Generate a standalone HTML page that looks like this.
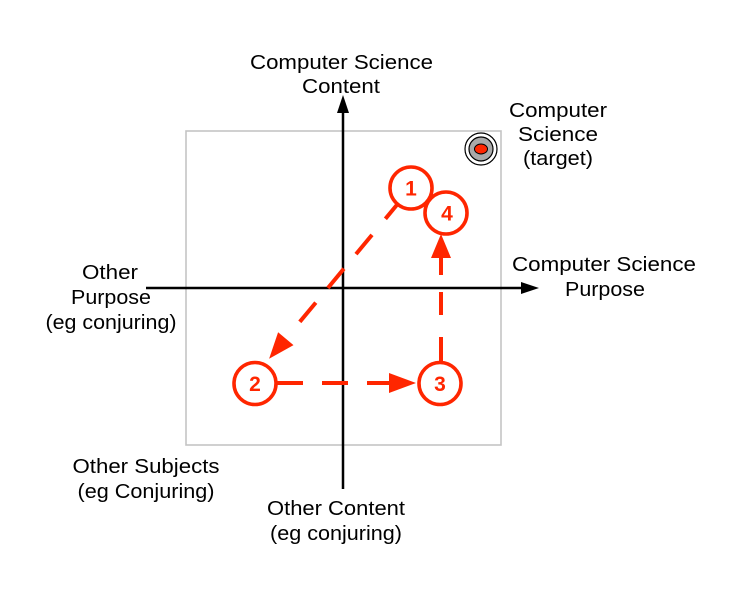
<!DOCTYPE html>
<html><head><meta charset="utf-8"><style>
html,body{margin:0;padding:0;background:#fff;}
svg{display:block;}
text{font-family:"Liberation Sans",Arial,sans-serif;font-size:20px;fill:#000;}
.n{font-weight:bold;font-size:21px;fill:#FF2600;}
</style></head><body>
<svg width="744" height="592" viewBox="0 0 744 592" xmlns="http://www.w3.org/2000/svg">
<rect x="0" y="0" width="744" height="592" fill="#fff"/>
<!-- box -->
<rect x="186" y="131" width="315" height="314" fill="none" stroke="#c4c4c4" stroke-width="1.6"/>
<!-- axes -->
<line x1="343" y1="489" x2="343" y2="110" stroke="#000" stroke-width="2.5"/>
<polygon points="343,95 337,113 349,113" fill="#000"/>
<line x1="146" y1="288" x2="524" y2="288" stroke="#000" stroke-width="2.5"/>
<polygon points="539,288 521,282 521,294" fill="#000"/>

<!-- target -->
<circle cx="481" cy="149" r="16" fill="#fff" stroke="#000" stroke-width="1.2"/>
<circle cx="481" cy="149" r="12" fill="#a9a9a9" stroke="#000" stroke-width="1.2"/>
<ellipse cx="481" cy="149" rx="6.5" ry="5" fill="#FF2600" stroke="#000" stroke-width="1"/>

<!-- red dashed connectors -->
<g stroke="#FF2600" stroke-width="4" fill="none" stroke-linecap="butt">
  <!-- 1 -> 2 -->
  <line x1="396.9" y1="204.9" x2="385.4" y2="218.8"/>
  <line x1="372.0" y1="234.9" x2="356.0" y2="254.1"/>
  <line x1="343.9" y1="268.7" x2="327.9" y2="288.0"/>
  <line x1="315.8" y1="302.6" x2="299.8" y2="321.8"/>
  <!-- 2 -> 3 -->
  <line x1="276" y1="383" x2="303" y2="383"/>
  <line x1="322" y1="383" x2="348" y2="383"/>
  <line x1="367" y1="383" x2="392" y2="383"/>
  <!-- 3 -> 4 -->
  <line x1="441" y1="362" x2="441" y2="337"/>
  <line x1="441" y1="315" x2="441" y2="292"/>
  <line x1="441" y1="275" x2="441" y2="255"/>
</g>
<g fill="#FF2600">
  <polygon points="269.1,358.7 293.5,345.1 278.1,332.3"/>
  <polygon points="416,383 389,373 389,393"/>
  <polygon points="441,234 431,258 451,258"/>
</g>

<!-- circles -->
<g stroke="#FF2600" stroke-width="3.6" fill="#fff">
  <circle cx="411" cy="188" r="21"/>
  <circle cx="446" cy="213" r="21"/>
  <circle cx="255" cy="383.5" r="21"/>
  <circle cx="440" cy="383.5" r="21"/>
</g>
<text class="n" x="411" y="195.5" text-anchor="middle">1</text>
<text class="n" x="447" y="220.5" text-anchor="middle">4</text>
<text class="n" x="255" y="391" text-anchor="middle">2</text>
<text class="n" x="440" y="391" text-anchor="middle">3</text>

<!-- labels -->
<text x="341.5" y="69" text-anchor="middle" textLength="183" lengthAdjust="spacingAndGlyphs">Computer Science</text>
<text x="341" y="93" text-anchor="middle" textLength="78" lengthAdjust="spacingAndGlyphs">Content</text>

<text x="558" y="117" text-anchor="middle" textLength="98" lengthAdjust="spacingAndGlyphs">Computer</text>
<text x="558" y="141" text-anchor="middle" textLength="80" lengthAdjust="spacingAndGlyphs">Science</text>
<text x="558" y="165" text-anchor="middle" textLength="70" lengthAdjust="spacingAndGlyphs">(target)</text>

<text x="604" y="271" text-anchor="middle" textLength="184" lengthAdjust="spacingAndGlyphs">Computer Science</text>
<text x="605" y="296" text-anchor="middle" textLength="80" lengthAdjust="spacingAndGlyphs">Purpose</text>

<text x="110" y="279" text-anchor="middle" textLength="56" lengthAdjust="spacingAndGlyphs">Other</text>
<text x="111" y="304" text-anchor="middle" textLength="80" lengthAdjust="spacingAndGlyphs">Purpose</text>
<text x="111" y="329" text-anchor="middle" textLength="131" lengthAdjust="spacingAndGlyphs">(eg conjuring)</text>

<text x="146" y="473" text-anchor="middle" textLength="147" lengthAdjust="spacingAndGlyphs">Other Subjects</text>
<text x="146" y="498" text-anchor="middle" textLength="137" lengthAdjust="spacingAndGlyphs">(eg Conjuring)</text>

<text x="336" y="515" text-anchor="middle" textLength="138" lengthAdjust="spacingAndGlyphs">Other Content</text>
<text x="336" y="540" text-anchor="middle" textLength="132" lengthAdjust="spacingAndGlyphs">(eg conjuring)</text>
</svg>
</body></html>
